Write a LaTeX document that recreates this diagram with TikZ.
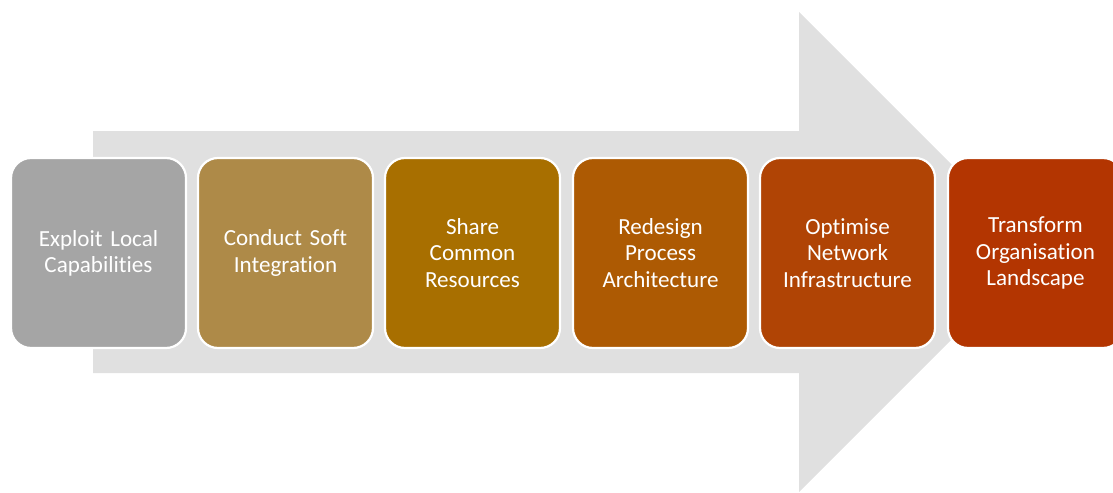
\documentclass[tikz,border=0pt]{standalone}
\usepackage{fontspec}
\setmainfont{Carlito}[Ligatures=NoCommon]
\usepackage{tikz}
\usetikzlibrary{positioning}
\definecolor{arrowgray}{HTML}{E0E0E0}
\definecolor{stepA}{HTML}{A5A5A5}
\definecolor{stepB}{HTML}{AE8A48}
\definecolor{stepC}{HTML}{A86F00}
\definecolor{stepD}{HTML}{AD5A03}
\definecolor{stepE}{HTML}{B04405}
\definecolor{stepF}{HTML}{B33501}

\begin{document}
\begin{tikzpicture}[
    x=0.025cm, y=-0.025cm,
    every node/.style={font=\fontsize{16.4}{18.6}\selectfont},
    stage/.style={rectangle, rounded corners=20*0.025cm, draw=white, line width=2.2*0.025cm,
        minimum width=175*0.025cm, minimum height=190*0.025cm, text width=165*0.025cm,
        align=center, text=white, inner sep=0pt}
]
\useasboundingbox (0,0) rectangle (1113,493);

% Background arrow
\fill[arrowgray] (93,131) -- (799,131) -- (799,12) -- (1039,252) -- (799,492)
    -- (799,373) -- (93,373) -- cycle;

% Stages
\node[stage, fill=stepA] (exploit)   at (98.5,253)  {Exploit Local\\Capabilities};
\node[stage, fill=stepB] (conduct)   at (285.5,253) {Conduct Soft\\Integration};
\node[stage, fill=stepC] (share)     at (472.5,253) {Share\\Common\\Resources};
\node[stage, fill=stepD] (redesign)  at (660.5,253) {Redesign\\Process\\Architecture};
\node[stage, fill=stepE] (optimise)  at (847.5,253) {Optimise\\Network\\Infrastructure};
\node[stage, fill=stepF] (transform) at (1035.5,253) {Transform\\Organisation\\Landscape};
\end{tikzpicture}
\end{document}
